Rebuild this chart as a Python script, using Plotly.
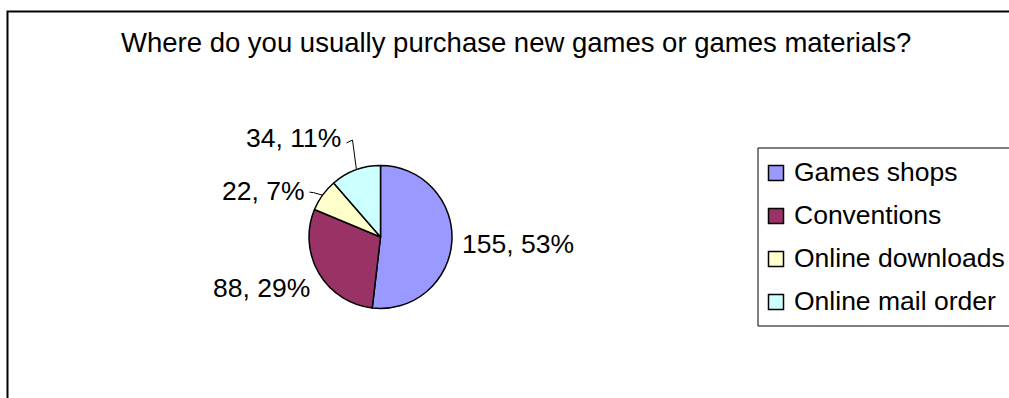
import math
import plotly.graph_objects as go

# Survey answers
categories = ["Games shops", "Conventions", "Online downloads", "Online mail order"]
counts = [155, 88, 22, 34]
percent_labels = ["53%", "29%", "7%", "11%"]
colors = ["#9999FF", "#993366", "#FFFFCC", "#CCFFFF"]
title_text = "Where do you usually purchase new games or games materials?"

W, H = 1009, 398
FONT = "Arial, Liberation Sans, sans-serif"

# Pie geometry in pixels
cx, cy, r = 380.5, 237.0, 71.5


def px(x):
    return x / W


def py(y):
    return 1 - y / H


fig = go.Figure(
    go.Pie(
        labels=categories,
        values=counts,
        sort=False,
        direction="clockwise",
        rotation=0,
        textinfo="none",
        hoverinfo="label+value+percent",
        marker=dict(colors=colors, line=dict(color="black", width=1.5)),
        domain=dict(x=[px(cx - r), px(cx + r)], y=[py(cy + r), py(cy - r)]),
        showlegend=False,
    )
)

annotations = []
shapes = []

# Outer chart frame
shapes.append(dict(type="rect", xref="paper", yref="paper",
                   x0=px(7.5), x1=px(W + 20), y0=py(11.5), y1=py(H + 20),
                   line=dict(color="black", width=2), fillcolor="rgba(0,0,0,0)"))

# Title
annotations.append(dict(text=title_text, xref="paper", yref="paper",
                        x=px(516), y=py(42), xanchor="center", yanchor="middle",
                        showarrow=False, font=dict(family=FONT, size=27.5, color="black")))

# Data labels placed off each slice's mid-angle edge point
label_offsets = [(8, 3, "left"), (-7, 15, "right"), (-16, -4, "right"), (-12, -32, "right")]
total = sum(counts)
cum = 0
for i, v in enumerate(counts):
    mid = (cum + v / 2) / total * 2 * math.pi
    cum += v
    ex = cx + r * math.sin(mid)
    ey = cy - r * math.cos(mid)
    dx, dy, anchor = label_offsets[i]
    lx, ly = ex + dx, ey + dy
    annotations.append(dict(text=f"{v}, {percent_labels[i]}", xref="paper", yref="paper",
                            x=px(lx), y=py(ly), xanchor=anchor, yanchor="middle",
                            showarrow=False, font=dict(family=FONT, size=26.5, color="black")))
    if i == 2:
        path = f"M {px(ex)} {py(ey)} L {px(lx + 7)} {py(ly + 1.5)} L {px(lx + 3)} {py(ly + 1)}"
        shapes.append(dict(type="path", xref="paper", yref="paper", path=path,
                           line=dict(color="black", width=1)))
    if i == 3:
        path = f"M {px(ex + 1)} {py(ey)} L {px(lx + 9)} {py(ly + 2)} L {px(lx + 3)} {py(ly + 5)}"
        shapes.append(dict(type="path", xref="paper", yref="paper", path=path,
                           line=dict(color="black", width=1)))

# Legend box with swatches
leg_x0, leg_y0, leg_y1 = 758, 148, 326
shapes.append(dict(type="rect", xref="paper", yref="paper",
                   x0=px(leg_x0), x1=px(W + 20), y0=py(leg_y0), y1=py(leg_y1),
                   line=dict(color="black", width=1), fillcolor="white"))
row_gap = 43
for i, name in enumerate(categories):
    yc = 173 + row_gap * i
    shapes.append(dict(type="rect", xref="paper", yref="paper",
                       x0=px(768.5), x1=px(783.5), y0=py(yc - 7.5), y1=py(yc + 7.5),
                       line=dict(color="black", width=1.5), fillcolor=colors[i]))
    annotations.append(dict(text=name, xref="paper", yref="paper",
                            x=px(791.5), y=py(yc - 1.5), xanchor="left", yanchor="middle",
                            showarrow=False, font=dict(family=FONT, size=26.5, color="black")))

fig.update_layout(
    width=W, height=H,
    margin=dict(l=0, r=0, t=0, b=0),
    paper_bgcolor="white", plot_bgcolor="white",
    shapes=shapes, annotations=annotations,
)

fig.write_html("out.html")
